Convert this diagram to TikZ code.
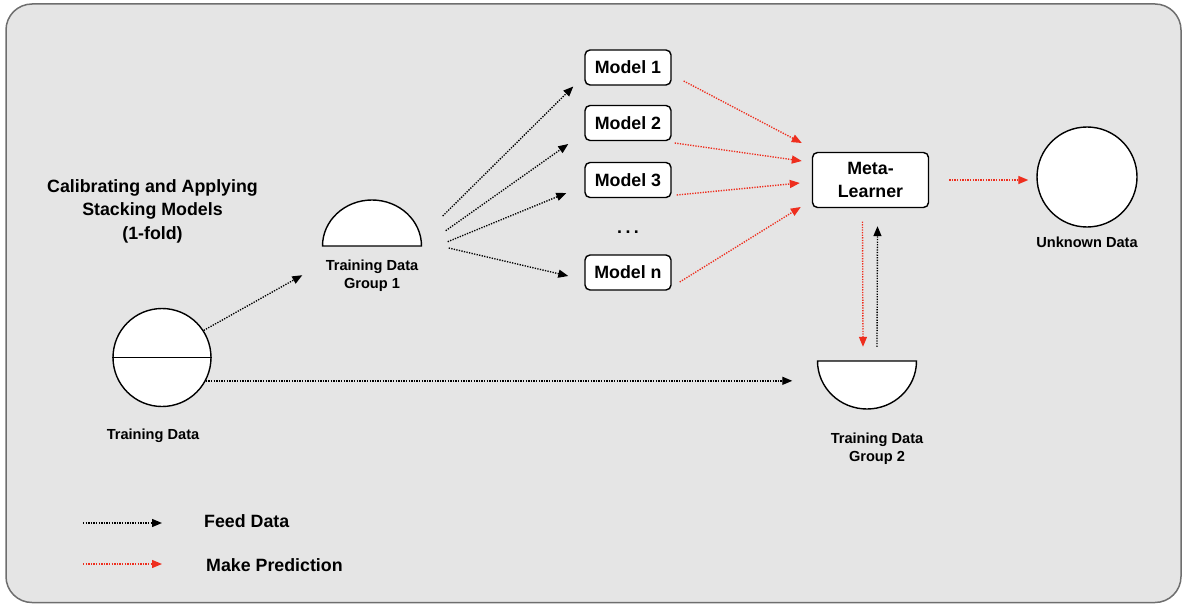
\documentclass[tikz,border=0pt]{standalone}
\usepackage{fontspec}
\setmainfont{Liberation Sans}
\usetikzlibrary{arrows.meta,calc}
\definecolor{bggray}{HTML}{E5E5E5}
\definecolor{framegray}{HTML}{6E6E6E}
\definecolor{predred}{HTML}{EE2E1E}
\begin{document}
\begin{tikzpicture}[x=1pt,y=-1pt,
  feed/.style={draw=black, line width=1.35pt, dash pattern=on 1.3pt off 1.3pt, -{Triangle[length=10pt,width=8pt]}},
  pred/.style={feed, draw=predred},
  shapeline/.style={draw=black, fill=white, line width=1.4pt},
  modelbox/.style={shapeline, rounded corners=5pt, minimum width=86pt, minimum height=35pt, inner sep=0pt, font=\bfseries\fontsize{17.8}{21}\selectfont},
  lbl/.style={align=center, inner sep=0pt, font=\bfseries\fontsize{14.6}{18}\selectfont},
  biglbl/.style={align=center, inner sep=0pt, font=\bfseries\fontsize{17.8}{23.5}\selectfont}
]
\useasboundingbox (0,0) rectangle (1182,604);
\draw[framegray, fill=bggray, line width=1.5pt, rounded corners=26pt] (6,4) rectangle (1181,602.5);

% title
\node[biglbl] (title) at (152.5,211) {Calibrating and Applying\\Stacking Models\\(1-fold)};

% training data
\node[shapeline, circle, minimum size=98pt, inner sep=0pt] (td) at (162,357.5) {};
\draw[line width=1.4pt] (td.west) -- (td.east);
\node[lbl] (tdl) at (153,436) {Training Data};

% group 1 (dome)
\draw[shapeline] (322.5,246) arc[start angle=180, end angle=0, x radius=49.5pt, y radius=46pt] -- cycle;
\node[inner sep=0pt, minimum width=99pt, minimum height=46pt] (g1) at (372,223) {};
\node[lbl] (g1l) at (372,275.5) {Training Data\\Group 1};

% group 2 (bowl)
\draw[shapeline] (817.5,361) arc[start angle=180, end angle=360, x radius=49.5pt, y radius=48pt] -- cycle;
\node[inner sep=0pt, minimum width=99pt, minimum height=48pt] (g2) at (867,385) {};
\node[lbl] (g2l) at (877,448.5) {Training Data\\Group 2};

% models
\node[modelbox] (m1) at (628,67.5) {Model 1};
\node[modelbox] (m2) at (628,123) {Model 2};
\node[modelbox] (m3) at (628,180) {Model 3};
\node[modelbox] (mn) at (628,272.5) {Model n};
\node[inner sep=0pt, font=\bfseries\fontsize{17.8}{21}\selectfont] (dots) at (628,232) {.\hspace{3.5pt}.\hspace{3.5pt}.};

% meta learner
\node[modelbox, minimum width=116pt, minimum height=55pt, align=center, font=\bfseries\fontsize{17.8}{22.7}\selectfont] (meta) at (870.5,180) {Meta-\\Learner};

% unknown data
\node[shapeline, circle, minimum size=100pt, inner sep=0pt] (unk) at (1087,177) {};
\node[lbl] (unkl) at (1087,242) {Unknown Data};

% feed arrows
\draw[feed] (td.33) -- ($(g1.south west)+(-20,29)$);
\draw[feed] (td.-28) -- ($(td.-28 -| g2.west)+(-25,0)$);
\draw[feed] ($(g1.east)+(21,-7)$) -- ($(m1.west)+(-11,19)$);
\draw[feed] ($(g1.east)+(24,7.7)$) -- ($(m2.west)+(-16,21)$);
\draw[feed] ($(g1.east)+(26,18.7)$) -- ($(m3.west)+(-18,13)$);
\draw[feed] ($(g1.east)+(27,25)$) -- ($(mn.west)+(-16,3.5)$);
\draw[feed] ($(g2.north)+(10,-14)$) -- ($(meta.south)+(7,18)$);

% prediction arrows
\draw[pred] ($(m1.east)+(12,13.5)$) -- ($(meta.west)+(-10,-37)$);
\draw[pred] ($(m2.east)+(3,20)$) -- ($(meta.west)+(-10,-19)$);
\draw[pred] ($(m3.east)+(5,15)$) -- ($(meta.west)+(-12,3)$);
\draw[pred] ($(mn.east)+(8,9.5)$) -- ($(meta.west)+(-11,27)$);
\draw[pred] ($(meta.east)+(20,0)$) -- ($(meta.east -| unk.west)+(-8,0)$);
\draw[pred] ($(meta.south)+(-8,13.4)$) -- ($(g2.north)+(-4,-14)$);

% legend
\coordinate (lf1) at (83,523);
\coordinate (lf2) at (162,523);
\coordinate (lp1) at (83,564);
\coordinate (lp2) at (162,564);
\draw[feed] (lf1) -- (lf2);
\draw[pred] (lp1) -- (lp2);
\node[biglbl, anchor=west] (feedl) at (204,521) {Feed Data};
\node[biglbl, anchor=west] (predl) at (206,565) {Make Prediction};
\end{tikzpicture}
\end{document}
